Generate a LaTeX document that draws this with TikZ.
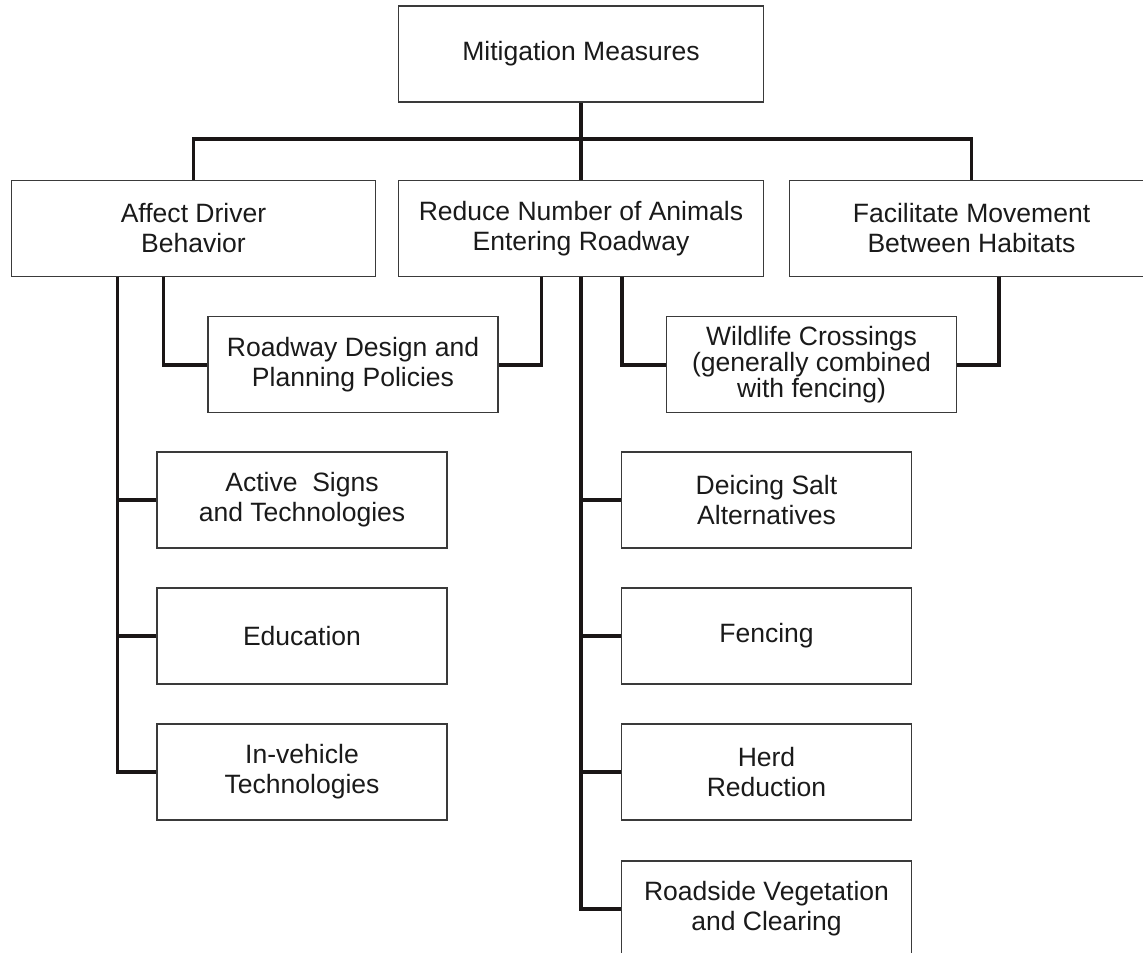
\documentclass[tikz,border=0pt]{standalone}
\usepackage{fontspec}
\setmainfont{Liberation Sans}
\definecolor{boxline}{HTML}{3A3A3A}
\definecolor{conn}{HTML}{1A1616}
\definecolor{txt}{HTML}{1A1A1A}
\begin{document}
\begin{tikzpicture}[x=0.02cm,y=-0.02cm,
  box/.style={draw=boxline,line width=0.8pt,rectangle,inner sep=0pt,
    minimum height=1.92cm,align=center,text=txt,
    font=\fontsize{15.1}{17}\selectfont},
  wide/.style={box,minimum width=7.29cm},
  small/.style={box,minimum width=5.8cm},
  tight/.style={font=\fontsize{15.1}{14.8}\selectfont},
  link/.style={draw=conn,line width=2.2pt}]
\useasboundingbox (0,0) rectangle (1143,953);
% top
\node[wide] (mit) at (581,54) {Mitigation Measures};
% level 2
\node[wide] (affect) at (193.5,228.3) {Affect Driver\\Behavior};
\node[wide] (reduce) at (581,228.3) {Reduce Number of Animals\\Entering Roadway};
\node[wide] (facil) at (971.5,228.3) {Facilitate Movement\\Between Habitats};
% shared children
\node[small] (road) at (353,364.7) {Roadway Design and\\Planning Policies};
\node[small,tight] (wild) at (811.5,364.7) {Wildlife Crossings\\(generally combined\\with fencing)};
% left column
\node[small] (active) at (302,500) {Active\ \ Signs\\and Technologies};
\node[small] (edu) at (302,636) {Education};
\node[small] (inveh) at (302,772) {In-vehicle\\Technologies};
% right column
\node[small] (deice) at (766.5,500) {Deicing Salt\\Alternatives};
\node[small] (fence) at (766.5,636) {Fencing};
\node[small] (herd) at (766.5,772) {Herd\\Reduction};
\node[small] (roadside) at (766.5,909) {Roadside Vegetation\\and Clearing};
% connector anchors
\coordinate (bar) at (581,139);
\coordinate (aL) at (117.5,276.5);
\coordinate (aR) at (163.5,276.5);
\coordinate (rL) at (541.5,276.5);
\coordinate (rR) at (622,276.5);
\coordinate (fD) at (999,276.5);
% connectors
\draw[link] (mit.south) -- (reduce.north);
\draw[link] (affect.north) |- (bar) -| (facil.north);
\draw[link] (aL) |- (inveh.west);
\draw[link] (aL |- active.west) -- (active.west);
\draw[link] (aL |- edu.west) -- (edu.west);
\draw[link] (aR) |- (road.west);
\draw[link] (rL) |- (road.east);
\draw[link] (rR) |- (wild.west);
\draw[link] (fD) |- (wild.east);
\draw[link] (reduce.south) |- (roadside.west);
\draw[link] (reduce.south |- deice.west) -- (deice.west);
\draw[link] (reduce.south |- fence.west) -- (fence.west);
\draw[link] (reduce.south |- herd.west) -- (herd.west);
\end{tikzpicture}
\end{document}
